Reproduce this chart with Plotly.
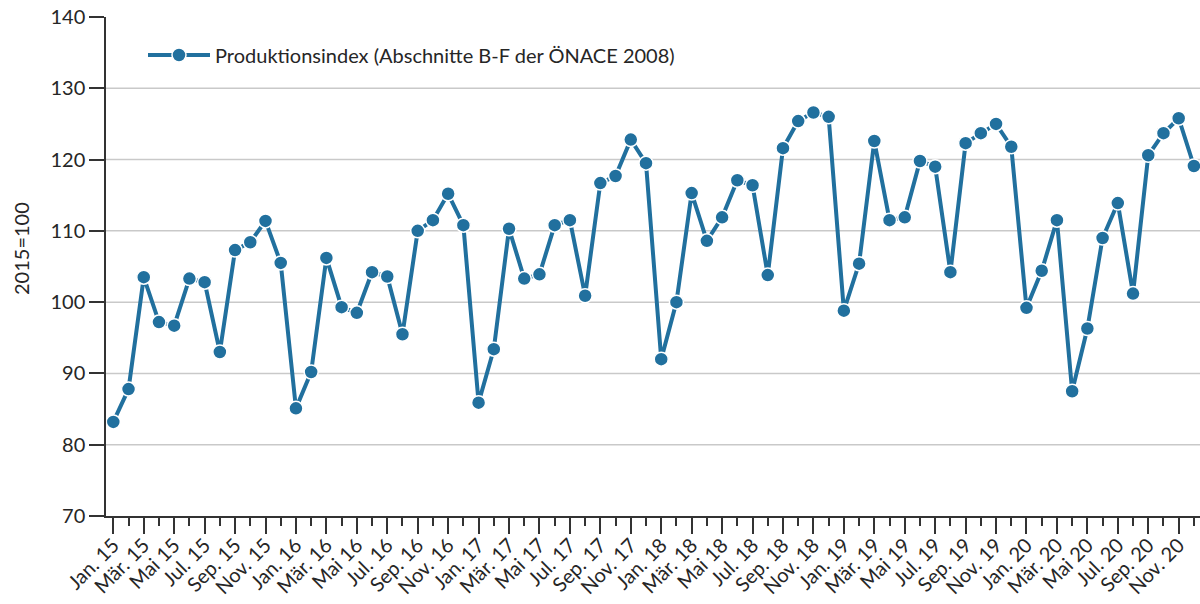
import plotly.graph_objects as go

months = ["Jan.", "Feb.", "Mär.", "Apr.", "Mai", "Jun.", "Jul.", "Aug.", "Sep.", "Okt.", "Nov.", "Dez."]
years = ["15", "16", "17", "18", "19", "20"]
categories = [f"{m} {y}" for y in years for m in months]

values = [
    83.2, 87.8, 103.5, 97.2, 96.7, 103.3, 102.8, 93.0, 107.3, 108.4, 111.4, 105.5,
    85.1, 90.2, 106.2, 99.3, 98.5, 104.2, 103.6, 95.5, 110.0, 111.5, 115.2, 110.8,
    85.9, 93.4, 110.3, 103.3, 103.9, 110.8, 111.5, 100.9, 116.7, 117.7, 122.8, 119.5,
    92.0, 100.0, 115.3, 108.6, 111.9, 117.1, 116.4, 103.8, 121.6, 125.4, 126.6, 126.0,
    98.8, 105.4, 122.6, 111.5, 111.9, 119.8, 119.0, 104.2, 122.3, 123.7, 125.0, 121.8,
    99.2, 104.4, 111.5, 87.5, 96.3, 109.0, 113.9, 101.2, 120.6, 123.7, 125.8, 119.1,
]

series_name = "Produktionsindex (Abschnitte B-F der ÖNACE 2008)"
y_title = "2015=100"
y_ticks = [70, 80, 90, 100, 110, 120, 130, 140]
grid_vals = [80, 90, 100, 110, 120, 130]

x_idx = list(range(len(categories)))
label_idx = x_idx[::2]
label_text = [categories[i] for i in label_idx]

color = "#21709e"
axis_color = "#333333"
text_color = "#262626"
FONT = "Lato, 'Open Sans', sans-serif"

L, T, B = 106, 17, 88
W, H = 1200, 604
PW, PH = W - L, H - T - B

fig = go.Figure()
fig.add_trace(go.Scatter(
    x=x_idx, y=values, mode="lines+markers", name=series_name,
    line=dict(color=color, width=4),
    marker=dict(size=14, color=color, line=dict(color="white", width=1.5)),
    hovertext=categories,
))

for g in grid_vals:
    fig.add_shape(type="line", xref="paper", x0=0, x1=1, yref="y", y0=g, y1=g,
                  line=dict(color="#c9c9c9", width=1.5), layer="below")

fig.add_annotation(
    text=y_title, textangle=-90, showarrow=False,
    xref="paper", yref="paper",
    x=(21 - L) / PW, y=1 - (249 - T) / PH,
    xanchor="center", yanchor="middle",
    font=dict(size=20, color=text_color),
)

fig.update_layout(
    width=W, height=H,
    margin=dict(l=L, r=0, t=T, b=B, autoexpand=False),
    paper_bgcolor="white", plot_bgcolor="white",
    font=dict(family=FONT, size=20, color=text_color),
    showlegend=True,
    legend=dict(x=(143 - L) / PW, y=1 - (55 - T) / PH, xanchor="left", yanchor="middle",
                bgcolor="rgba(0,0,0,0)", font=dict(size=20, color=text_color),
                itemwidth=62),
    xaxis=dict(
        range=[-0.48, 71.4], automargin=False,
        tickmode="array", tickvals=label_idx, ticktext=label_text,
        tickangle=-45, ticks="outside", ticklen=16, tickwidth=1.5, tickcolor=axis_color,
        ticklabelstandoff=-8,
        showline=True, linecolor=axis_color, linewidth=1.5,
        showgrid=False, zeroline=False,
        minor=dict(tickmode="linear", tick0=0, dtick=1, ticks="outside", ticklen=8,
                   tickwidth=1.5, tickcolor=axis_color, showgrid=False),
        tickfont=dict(size=20, color=text_color),
    ),
    yaxis=dict(
        range=[70, 140], automargin=False,
        tickmode="array", tickvals=y_ticks,
        ticks="outside", ticklen=15, tickwidth=1.5, tickcolor=axis_color,
        showline=True, linecolor=axis_color, linewidth=1.5,
        showgrid=False, zeroline=False,
        tickfont=dict(size=20, color=text_color),
    ),
)

fig.write_html(
    "out.html",
    config={"displayModeBar": False},
    post_script="document.body.style.margin='0';document.body.style.overflow='hidden';",
)
